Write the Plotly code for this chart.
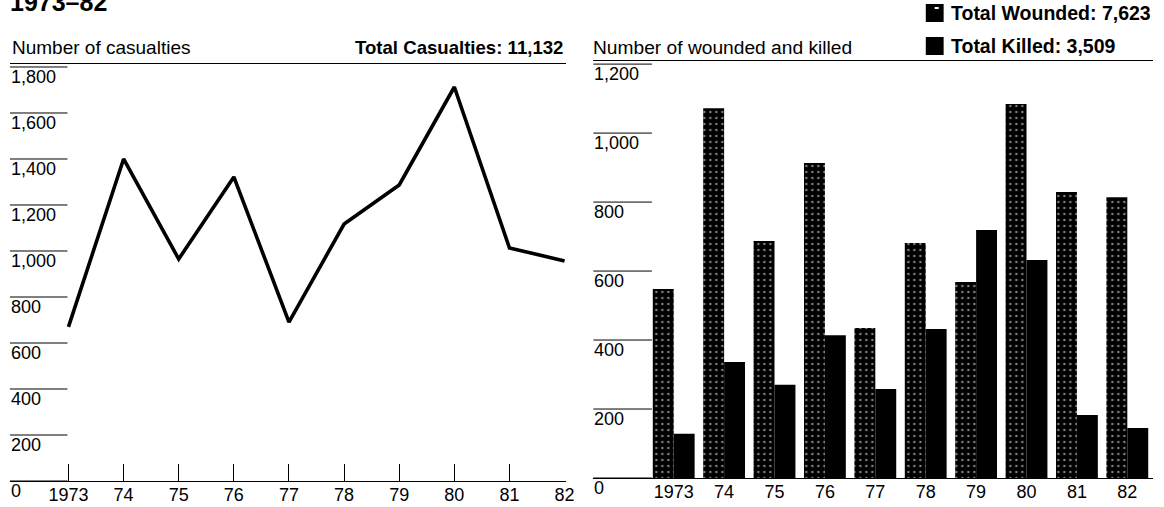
import plotly.graph_objects as go

W, H = 1164, 507

# ---- data ----
years = ["1973", "74", "75", "76", "77", "78", "79", "80", "81", "82"]
casualties = [670, 1400, 965, 1322, 691, 1117, 1287, 1713, 1013, 957]
wounded = [548, 1072, 687, 913, 435, 681, 568, 1084, 829, 814]
killed = [128, 336, 270, 414, 258, 432, 719, 632, 183, 145]

left_ticks = [0, 200, 400, 600, 800, 1000, 1200, 1400, 1600, 1800]
left_tick_text = ["0", "200", "400", "600", "800", "1,000", "1,200", "1,400", "1,600", "1,800"]
right_ticks = [0, 200, 400, 600, 800, 1000, 1200]
right_tick_text = ["0", "200", "400", "600", "800", "1,000", "1,200"]

title_text = "1973\u201382"
left_header = "Number of casualties"
left_total = "Total Casualties: 11,132"
right_header = "Number of wounded and killed"
wounded_name = "Total Wounded: 7,623"
killed_name = "Total Killed: 3,509"

FONT = "Liberation Sans, Arial, Helvetica, sans-serif"


def px(x):
    return x / W


def py(y):
    return 1 - y / H


fig = go.Figure()

fig.add_trace(go.Scatter(
    x=years, y=casualties, mode="lines", name="Casualties",
    line=dict(color="black", width=3.6),
    xaxis="x", yaxis="y", hoverinfo="x+y",
))

fig.add_trace(go.Bar(
    x=years, y=wounded, name=wounded_name,
    marker=dict(color="black", line=dict(width=0),
                pattern=dict(shape=".", bgcolor="black", fgcolor="white",
                             size=6, solidity=0.14, fillmode="overlay")),
    xaxis="x2", yaxis="y2",
))
fig.add_trace(go.Bar(
    x=years, y=killed, name=killed_name,
    marker=dict(color="black", line=dict(width=0)),
    xaxis="x2", yaxis="y2",
))

axis_common = dict(showgrid=False, zeroline=False, showline=True, mirror=True,
                   linecolor="black", linewidth=1.2, ticklabelstandoff=-3,
                   tickfont=dict(family=FONT, size=18, color="black"))

fig.update_layout(
    width=W, height=H, autosize=False,
    margin=dict(l=0, r=0, t=0, b=0),
    paper_bgcolor="white", plot_bgcolor="white",
    font=dict(family=FONT, color="black"),
    barmode="group", bargap=0.17, bargroupgap=0,
    showlegend=False,
    xaxis=dict(domain=[px(10), px(570)], range=[-1.062, 9.018],
               type="category", ticks="inside", ticklen=17, tickwidth=1.2,
               tickcolor="black", anchor="y", **axis_common),
    yaxis=dict(domain=[py(481), py(64)], range=[0, 1813], visible=False,
               anchor="x"),
    xaxis2=dict(domain=[px(598), px(1162)], range=[-1.594, 9.51],
                type="category", ticks="", anchor="y2", **axis_common),
    yaxis2=dict(domain=[py(478), py(61)], range=[0, 1209], visible=False,
                anchor="x2"),
)

annotations = [
    dict(text=title_text, x=px(8), y=py(12), xanchor="left", yanchor="bottom",
         yshift=-6, font=dict(size=25, weight="bold")),
    dict(text=left_header, x=px(10), y=py(47), xanchor="left", yanchor="middle",
         font=dict(size=19)),
    dict(text=left_total, x=px(569), y=py(47), xanchor="right", yanchor="middle",
         font=dict(size=18.6, weight="bold")),
    dict(text=right_header, x=px(596), y=py(47), xanchor="left", yanchor="middle",
         font=dict(size=19.2)),
    dict(text=wounded_name, x=px(956), y=py(13), xanchor="left", yanchor="middle",
         font=dict(size=19.5, weight="bold")),
    dict(text=killed_name, x=px(956), y=py(46), xanchor="left", yanchor="middle",
         font=dict(size=19.5, weight="bold")),
]
shapes = [
    dict(type="rect", xref="paper", yref="paper", x0=px(933), x1=px(951),
         y0=py(22), y1=py(4), fillcolor="black", line=dict(width=0)),
    dict(type="rect", xref="paper", yref="paper", x0=px(933), x1=px(951),
         y0=py(55), y1=py(37), fillcolor="black", line=dict(width=0)),
    dict(type="rect", xref="paper", yref="paper", x0=px(942), x1=px(946),
         y0=py(9), y1=py(7), fillcolor="white", line=dict(width=0)),
]
for v, t in zip(left_ticks, left_tick_text):
    annotations.append(dict(text=t, x=px(9), y=v, xref="paper", yref="y",
                            xanchor="left", yanchor="middle", yshift=-10,
                            font=dict(size=18)))
    shapes.append(dict(type="line", xref="paper", yref="y", x0=px(10), x1=px(68),
                       y0=v, y1=v, line=dict(color="black", width=1)))
for v, t in zip(right_ticks, right_tick_text):
    annotations.append(dict(text=t, x=px(597), y=v, xref="paper", yref="y2",
                            xanchor="left", yanchor="middle", yshift=-10,
                            font=dict(size=18)))
    shapes.append(dict(type="line", xref="paper", yref="y2", x0=px(598), x1=px(657),
                       y0=v, y1=v, line=dict(color="black", width=1)))

for a in annotations:
    a.setdefault("xref", "paper")
    a.setdefault("yref", "paper")
    a["showarrow"] = False
    a["font"].setdefault("family", FONT)
    a["font"].setdefault("color", "black")

fig.update_layout(annotations=annotations, shapes=shapes)

fig.write_html(
    "out.html",
    config={"displayModeBar": False},
    post_script="document.body.style.margin='0';document.body.style.overflow='hidden';",
)
